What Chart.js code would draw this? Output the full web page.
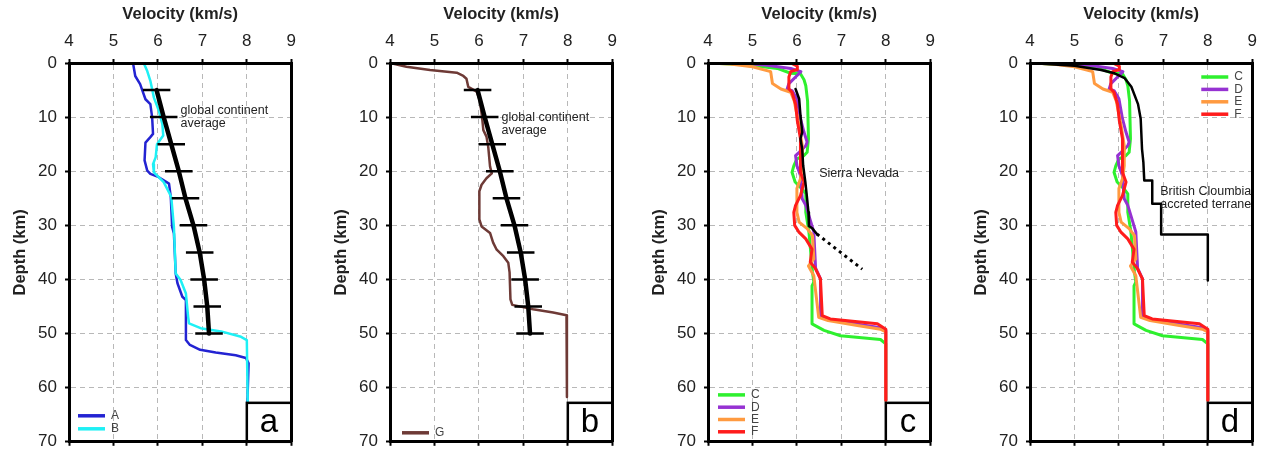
<!DOCTYPE html>
<html>
<head>
<meta charset="utf-8">
<script src="https://cdn.jsdelivr.net/npm/chart.js@4.4.1/dist/chart.umd.min.js"></script>
<style>
  html, body { margin: 0; padding: 0; background: #fff; overflow: hidden; }
  .panel { position: absolute; top: 0; width: 292px; height: 460px; }
</style>
</head>
<body>
<div class="panel" style="left:11px"><canvas id="pa"></canvas></div>
<div class="panel" style="left:332px"><canvas id="pb"></canvas></div>
<div class="panel" style="left:650px"><canvas id="pc"></canvas></div>
<div class="panel" style="left:972px"><canvas id="pd"></canvas></div>
<script>
// velocity ticks (km/s) and depth ticks (km)
const velTicks = [4, 5, 6, 7, 8, 9];
const depthTicks = [0, 10, 20, 30, 40, 50, 60, 70];

// global continent average with error bars
const avgDepth = [5, 10, 15, 20, 25, 30, 35, 40, 45, 50];
const avgVel = [5.97, 6.13, 6.30, 6.47, 6.62, 6.80, 6.94, 7.04, 7.11, 7.15];
const avgErr = [0.31, 0.31, 0.31, 0.31, 0.31, 0.31, 0.31, 0.31, 0.31, 0.31];

// profile A
const depA = [0, 2.4, 3.9, 6.7, 7.6, 10, 13.1, 13.7, 14.7, 18, 19.9, 20.5, 21.1, 22.3, 24.8, 30.3, 31.5, 38.9, 40.7, 43.2, 43.8, 51.2, 52.1, 53, 53.5, 54, 54.5, 55.5, 63.4];
const velA = [5.44, 5.49, 5.6, 5.72, 5.83, 5.87, 5.89, 5.83, 5.72, 5.70, 5.76, 5.83, 6.02, 6.25, 6.29, 6.32, 6.36, 6.40, 6.44, 6.55, 6.63, 6.63, 6.72, 6.95, 7.3, 7.75, 7.98, 8.04, 8.01];
// profile B
const depB = [0, 1.5, 3.3, 6.4, 8.8, 11.3, 13.4, 15, 17.4, 18.7, 20.2, 22, 23.9, 24.8, 30.3, 38.9, 40.1, 42.6, 46.9, 48.1, 49, 49.6, 50.6, 51.2, 62.8];
const velB = [5.68, 5.76, 5.83, 5.91, 6.02, 6.10, 6.12, 5.98, 5.95, 5.89, 5.91, 6.13, 6.25, 6.30, 6.36, 6.40, 6.51, 6.63, 6.68, 6.70, 6.96, 7.42, 7.87, 8.0, 8.02];
// profile G
const depG = [0, 0.7, 1.3, 1.8, 2.4, 2.9, 4.4, 5.3, 6.9, 9.9, 12.4, 13.6, 15.5, 19.1, 20.4, 21.3, 22.5, 23.7, 28.9, 30.2, 31.4, 33.2, 34.5, 35.7, 36.9, 38.7, 43.7, 44.7, 45.5, 46.1, 46.6, 49.8, 61.7];
const velG = [4.0, 4.37, 4.90, 5.50, 5.65, 5.72, 5.76, 5.95, 6.02, 6.07, 6.10, 6.17, 6.21, 6.25, 6.29, 6.17, 6.06, 6.01, 6.01, 6.06, 6.25, 6.32, 6.40, 6.55, 6.66, 6.69, 6.71, 6.75, 7.22, 7.67, 7.97, 7.98, 7.98];
// profiles C, D, E, F
const depC = [0, 0.3, 1.0, 1.9, 2.0, 3.1, 4.2, 7, 14, 16.5, 17.1, 17.7, 19, 20.2, 22, 23.3, 24.2, 27.6, 31.2, 34.9, 38.6, 40.5, 41.2, 48.2, 49.4, 50.4, 51.1, 51.9, 62.3];
const velC = [4.0, 4.8, 5.56, 5.86, 6.08, 6.16, 6.2, 6.24, 6.26, 6.23, 6.16, 6.0, 5.93, 5.89, 5.96, 6.12, 6.2, 6.2, 6.27, 6.31, 6.35, 6.38, 6.34, 6.34, 6.61, 6.98, 7.88, 8.0, 8.0];
const depD = [0, 0.2, 0.4, 1.0, 1.6, 2.6, 3.8, 4.8, 5.1, 6.6, 10.3, 12.8, 14.6, 15.3, 16.5, 17.1, 19, 20.8, 25.1, 26.3, 28.2, 31.2, 37.9, 39.9, 46.7, 47.3, 48.2, 48.9, 49.4, 62.3];
const velD = [4.0, 5.0, 5.33, 5.86, 6.09, 5.97, 5.82, 5.78, 5.89, 6.0, 6.08, 6.16, 6.23, 6.2, 6.05, 5.97, 6.0, 6.08, 6.12, 6.2, 6.27, 6.38, 6.42, 6.53, 6.53, 6.68, 7.3, 7.88, 8.0, 8.0];
const depE = [0, 0.2, 0.7, 1.6, 3.8, 4.8, 5.4, 7, 11.6, 15.3, 19, 21.4, 23.2, 27.6, 29.4, 30.6, 31.9, 36.2, 37.5, 39.3, 47, 47.6, 48.5, 49.2, 49.7, 62.3];
const velE = [4.0, 4.5, 5.0, 5.41, 5.45, 5.64, 5.86, 5.94, 6.05, 6.12, 6.12, 6.08, 6.0, 6.0, 6.05, 6.23, 6.35, 6.38, 6.26, 6.38, 6.49, 6.7, 7.36, 7.88, 8.0, 8.0];
const depF = [0, 0.6, 1.2, 1.6, 2.6, 4.8, 5.4, 7.6, 10.7, 14, 20.2, 22, 24.5, 26.3, 27.6, 30, 31.2, 32.5, 34.4, 36.8, 37.9, 39.9, 46.7, 47.3, 48.2, 49.2, 62.3];
const velF = [5.86, 6.01, 6.01, 5.86, 5.82, 5.82, 5.89, 5.97, 6.01, 6.08, 6.08, 6.16, 6.08, 5.97, 5.93, 5.95, 6.04, 6.2, 6.34, 6.30, 6.41, 6.53, 6.57, 6.75, 7.81, 8.0, 8.0];
// Sierra Nevada (solid part, then dotted extension)
const depSN = [4.8, 6.6, 9.7, 12.8, 14, 15.9, 18.9, 22, 25.1, 27.6, 30.1, 30.6, 31.6];
const velSN = [5.97, 6.05, 6.08, 6.12, 6.08, 6.12, 6.14, 6.19, 6.23, 6.26, 6.27, 6.35, 6.45];
const depSNx = [31.6, 38.1];
const velSNx = [6.45, 7.47];
// British Columbia accreted terrane
const depBC = [0, 0.5, 1.3, 1.9, 2.8, 4.4, 7.6, 10.3, 15.9, 18.3, 21.7, 21.7, 26, 26, 31.7, 31.7, 40.2];
const velBC = [4.0, 5.0, 5.6, 5.9, 6.13, 6.28, 6.43, 6.49, 6.52, 6.55, 6.57, 6.75, 6.75, 6.95, 6.95, 8.0, 8.0];

const colors = { A: '#2323d2', B: '#1ef0f5', G: '#6e3a36', C: '#2ef02e', D: '#9632d2', E: '#ff9a40', F: '#ff1c1c' };
const FONT = 'Arial, "Liberation Sans", sans-serif';
Chart.defaults.font.family = FONT;

function profile(deps, vels) {
  return deps.map((d, i) => ({ x: vels[i], y: d }));
}

function errorBars(deps, vels, errs) {
  const pts = [];
  deps.forEach((d, i) => {
    pts.push({ x: vels[i] - errs[i], y: d }, { x: vels[i] + errs[i], y: d }, { x: null, y: null });
  });
  return pts;
}

function curve(label, deps, vels, color, width, extra) {
  return Object.assign({
    label, data: profile(deps, vels), borderColor: color, backgroundColor: color,
    borderWidth: width, pointRadius: 0, showLine: true, spanGaps: false,
    borderJoinStyle: 'round', borderCapStyle: 'round'
  }, extra || {});
}

function averageSets() {
  return [
    curve('average', avgDepth, avgVel, '#000', 4.5),
    { label: 'error', data: errorBars(avgDepth, avgVel, avgErr), borderColor: '#000',
      borderWidth: 2.5, pointRadius: 0, showLine: true, spanGaps: false }
  ];
}

// notes, legend and the panel letter
const overlay = {
  id: 'overlay',
  afterDatasetsDraw(chart, args, opts) {
    const { ctx, chartArea: area, scales: { x, y } } = chart;
    ctx.save();
    ctx.fillStyle = '#222';
    ctx.font = '12.5px ' + FONT;
    ctx.textBaseline = 'middle';
    ctx.textAlign = 'left';
    (opts.notes || []).forEach(n => {
      n.lines.forEach((t, i) => ctx.fillText(t, x.getPixelForValue(n.v), y.getPixelForValue(n.d) + i * 13));
    });

    const L = opts.legend;
    const items = chart.data.datasets.filter(d => d.inLegend).sort((a, b) => a.label.localeCompare(b.label));
    ctx.font = '12px ' + FONT;
    ctx.fillStyle = '#444';
    items.forEach((d, i) => {
      let x0, yy;
      if (L.corner === 'bl') {
        x0 = area.left + L.dx;
        yy = area.bottom - L.dy - (items.length - 1 - i) * L.step;
      } else {
        x0 = area.right - L.dx;
        yy = area.top + L.dy + i * L.step;
      }
      ctx.strokeStyle = d.borderColor;
      ctx.lineWidth = 3.5;
      ctx.beginPath();
      ctx.moveTo(x0, yy);
      ctx.lineTo(x0 + 27, yy);
      ctx.stroke();
      ctx.fillText(d.label, x0 + 33, yy);
    });

    const bx = x.getPixelForValue(8);
    const by = y.getPixelForValue(62.8);
    ctx.fillStyle = '#fff';
    ctx.fillRect(bx, by, area.right - bx, area.bottom - by);
    ctx.strokeStyle = '#000';
    ctx.lineWidth = 2.5;
    ctx.strokeRect(bx, by, area.right - bx, area.bottom - by);
    ctx.fillStyle = '#000';
    ctx.font = '33px ' + FONT;
    ctx.textAlign = 'center';
    ctx.textBaseline = 'alphabetic';
    ctx.fillText(opts.letter, (bx + area.right) / 2, area.bottom - 10);
    ctx.restore();
  }
};

function makePanel(id, datasets, overlayOpts) {
  const frame = { display: true, color: '#000', width: 3, dash: [5, 4], z: 1 };
  new Chart(document.getElementById(id), {
    type: 'scatter',
    data: { datasets },
    plugins: [overlay],
    options: {
      responsive: true,
      maintainAspectRatio: false,
      animation: false,
      layout: { padding: { top: 0, left: 0, right: 4, bottom: 5 } },
      plugins: { legend: { display: false }, tooltip: { enabled: false }, overlay: overlayOpts },
      scales: {
        x: {
          type: 'linear', position: 'top', min: velTicks[0], max: velTicks[velTicks.length - 1],
          afterBuildTicks: s => { s.ticks = velTicks.map(v => ({ value: v })); },
          ticks: { autoSkip: false, color: '#222', font: { size: 17 }, padding: 7, maxRotation: 0 },
          grid: { color: '#b8b8b8', lineWidth: 1, tickColor: '#000', tickWidth: 2, tickLength: 4 },
          border: frame,
          title: { display: true, text: 'Velocity (km/s)', color: '#222', font: { size: 16.5, weight: 'bold' }, padding: { top: 5, bottom: 0 } },
          afterFit: s => { s.height = 63; }
        },
        x2: {
          type: 'linear', position: 'bottom', min: velTicks[0], max: velTicks[velTicks.length - 1],
          afterBuildTicks: s => { s.ticks = velTicks.map(v => ({ value: v })); },
          ticks: { display: false },
          grid: { drawOnChartArea: false, tickColor: '#000', tickWidth: 2, tickLength: 4 },
          border: Object.assign({}, frame, { dash: [] }),
          afterFit: s => { s.height = 5; }
        },
        y: {
          type: 'linear', position: 'left', reverse: true, min: depthTicks[0], max: depthTicks[depthTicks.length - 1],
          afterBuildTicks: s => { s.ticks = depthTicks.map(v => ({ value: v })); },
          ticks: { autoSkip: false, color: '#222', font: { size: 17 }, padding: 8 },
          grid: { color: '#b8b8b8', lineWidth: 1, tickColor: '#000', tickWidth: 2, tickLength: 4 },
          border: frame,
          title: { display: true, text: 'Depth (km)', color: '#222', font: { size: 16.5, weight: 'bold' }, padding: { top: 0, bottom: 0 } },
          afterFit: s => { s.width = 58; }
        },
        y2: {
          type: 'linear', position: 'right', reverse: true, min: depthTicks[0], max: depthTicks[depthTicks.length - 1],
          ticks: { display: false },
          grid: { display: false },
          border: Object.assign({}, frame, { dash: [] }),
          afterFit: s => { s.width = 2; }
        }
      }
    }
  });
}

makePanel('pa', [
  ...averageSets(),
  curve('B', depB, velB, colors.B, 2.5, { inLegend: true }),
  curve('A', depA, velA, colors.A, 2.5, { inLegend: true })
], {
  letter: 'a',
  notes: [{ v: 6.51, d: 8.8, lines: ['global continent', 'average'] }],
  legend: { corner: 'bl', dx: 9, dy: 13, step: 13 }
});

makePanel('pb', [
  ...averageSets(),
  curve('G', depG, velG, colors.G, 2.5, { inLegend: true })
], {
  letter: 'b',
  notes: [{ v: 6.51, d: 10.0, lines: ['global continent', 'average'] }],
  legend: { corner: 'bl', dx: 12, dy: 9, step: 13 }
});

makePanel('pc', [
  curve('Sierra Nevada', depSN, velSN, '#000', 2.5),
  curve('Sierra Nevada (extrapolated)', depSNx, velSNx, '#000', 3, { borderDash: [3, 4], borderCapStyle: 'butt' }),
  curve('F', depF, velF, colors.F, 3, { inLegend: true }),
  curve('E', depE, velE, colors.E, 3, { inLegend: true }),
  curve('D', depD, velD, colors.D, 3, { inLegend: true }),
  curve('C', depC, velC, colors.C, 3, { inLegend: true })
], {
  letter: 'c',
  notes: [{ v: 6.5, d: 20.5, lines: ['Sierra Nevada'] }],
  legend: { corner: 'bl', dx: 10, dy: 10, step: 12.3 }
});

makePanel('pd', [
  curve('British Columbia', depBC, velBC, '#000', 2.5),
  curve('F', depF, velF, colors.F, 3, { inLegend: true }),
  curve('E', depE, velE, colors.E, 3, { inLegend: true }),
  curve('D', depD, velD, colors.D, 3, { inLegend: true }),
  curve('C', depC, velC, colors.C, 3, { inLegend: true })
], {
  letter: 'd',
  notes: [{ v: 6.93, d: 23.8, lines: ['British Cloumbia', 'accreted terrane'] }],
  legend: { corner: 'tr', dx: 51, dy: 14, step: 12.4 }
});
</script>
</body>
</html>
